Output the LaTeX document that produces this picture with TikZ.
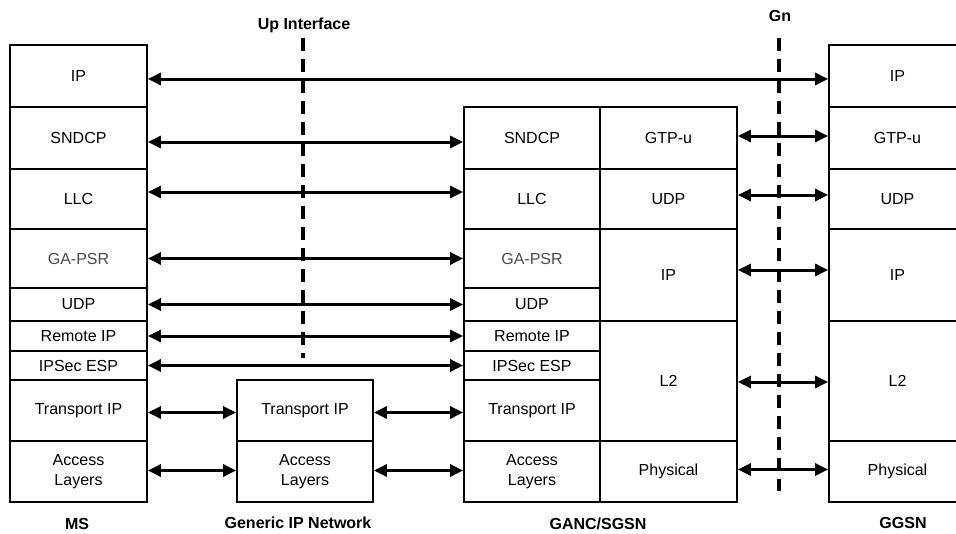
\documentclass[tikz,border=0pt]{standalone}
\usepackage{fontspec}
\setmainfont{Liberation Sans}
\usetikzlibrary{arrows.meta}

\begin{document}
\begin{tikzpicture}[x=1pt,y=-1pt,
    layer/.style={draw,line width=1.8pt,inner sep=0pt,align=center,
                  font=\fontsize{16}{20}\selectfont},
    link/.style={{Triangle[length=13pt,width=12pt]}-{Triangle[length=13pt,width=12pt]},
                 line width=3pt},
    iface/.style={line width=3.2pt,dash pattern=on 13pt off 8pt},
    lbl/.style={font=\fontsize{16}{18}\selectfont\bfseries}]
  \useasboundingbox (0,0) rectangle (956,533);
  \clip (0,0) rectangle (956,533);

  % MS stack
  \foreach \n/\t/\c/\a/\b in {msip/IP/black/45/107,mssn/SNDCP/black/107/169,
      msllc/LLC/black/169/229,msga/GA-PSR/black!70/229/288,msudp/UDP/black/288/321,
      msrip/Remote IP/black/321/351,msesp/IPSec ESP/black/351/380,
      mstip/Transport IP/black/380/441,msacc/Access\\Layers/black/441/502}
    \node[layer,text=\c,minimum width=137pt,minimum height={(\b-\a)*1pt}]
      (\n) at (78.5,{(\a+\b)/2}) {\t};

  % generic IP network
  \foreach \n/\t/\a/\b in {gntip/Transport IP/380/441,gnacc/Access\\Layers/441/502}
    \node[layer,minimum width=136pt,minimum height={(\b-\a)*1pt}]
      (\n) at (305,{(\a+\b)/2}) {\t};

  % GANC/SGSN, left half
  \foreach \n/\t/\c/\a/\b in {gasn/SNDCP/black/107/169,gallc/LLC/black/169/229,
      gaga/GA-PSR/black!70/229/288,gaudp/UDP/black/288/321,
      garip/Remote IP/black/321/351,gaesp/IPSec ESP/black/351/380,
      gatip/Transport IP/black/380/441,gaacc/Access\\Layers/black/441/502}
    \node[layer,text=\c,minimum width=136pt,minimum height={(\b-\a)*1pt}]
      (\n) at (532,{(\a+\b)/2}) {\t};

  % GANC/SGSN, right half
  \foreach \n/\t/\a/\b in {sggtp/GTP-u/107/169,sgudp/UDP/169/229,sgip/IP/229/321,
      sgl2/L2/321/441,sgphy/Physical/441/502}
    \node[layer,minimum width=137pt,minimum height={(\b-\a)*1pt}]
      (\n) at (668.5,{(\a+\b)/2}) {\t};

  % GGSN stack (cut by the right edge)
  \foreach \n/\t/\a/\b in {ggip/IP/45/107,gggtp/GTP-u/107/169,ggudp/UDP/169/229,
      ggipb/IP/229/321,ggl2/L2/321/441,ggphy/Physical/441/502}
    \node[layer,minimum width=137pt,minimum height={(\b-\a)*1pt}]
      (\n) at (897.5,{(\a+\b)/2}) {\t};

  % interfaces
  \node[lbl] (uplbl) at (304,25) {Up Interface};
  \node[lbl] (gnlbl) at (780,16) {Gn};
  \coordinate (uptop) at (303,38);
  \coordinate (upbot) at (303,358);
  \coordinate (gntop) at (779,38);
  \coordinate (gnbot) at (779,491);
  \draw[iface] (uptop) -- (upbot);
  \draw[iface] (gntop) -- (gnbot);

  % peer links MS -- GANC
  \draw[link] ([yshift=-3pt]msip.east) -- ([yshift=-3pt]ggip.west);
  \draw[link] ([yshift=-4pt]mssn.east) -- ([yshift=-4pt]gasn.west);
  \draw[link] ([yshift=7pt]msllc.east) -- ([yshift=7pt]gallc.west);
  \foreach \p/\q in {msga/gaga,msudp/gaudp,msrip/garip,msesp/gaesp}
    \draw[link] (\p.east) -- (\q.west);

  % links through the generic IP network
  \draw[link] ([yshift=-2pt]mstip.east) -- ([yshift=-2pt]gntip.west);
  \draw[link] ([yshift=-2pt]gntip.east) -- ([yshift=-2pt]gatip.west);
  \draw[link] ([yshift=1pt]msacc.east) -- ([yshift=1pt]gnacc.west);
  \draw[link] ([yshift=1pt]gnacc.east) -- ([yshift=1pt]gaacc.west);

  % links over Gn
  \foreach \p/\q/\s in {sggtp/gggtp/2,sgudp/ggudp/4,sgip/ggipb/5,sgl2/ggl2/-1,sgphy/ggphy/2}
    \draw[link] ([yshift=\s pt]\p.east) -- ([yshift=\s pt]\q.west);

  % node names
  \node[lbl] (mslbl) at (77,524) {MS};
  \node[lbl] (gnetlbl) at (298,523) {Generic IP Network};
  \node[lbl] (galbl) at (598,524) {GANC/SGSN};
  \node[lbl] (gglbl) at (903,523) {GGSN};
\end{tikzpicture}
\end{document}
